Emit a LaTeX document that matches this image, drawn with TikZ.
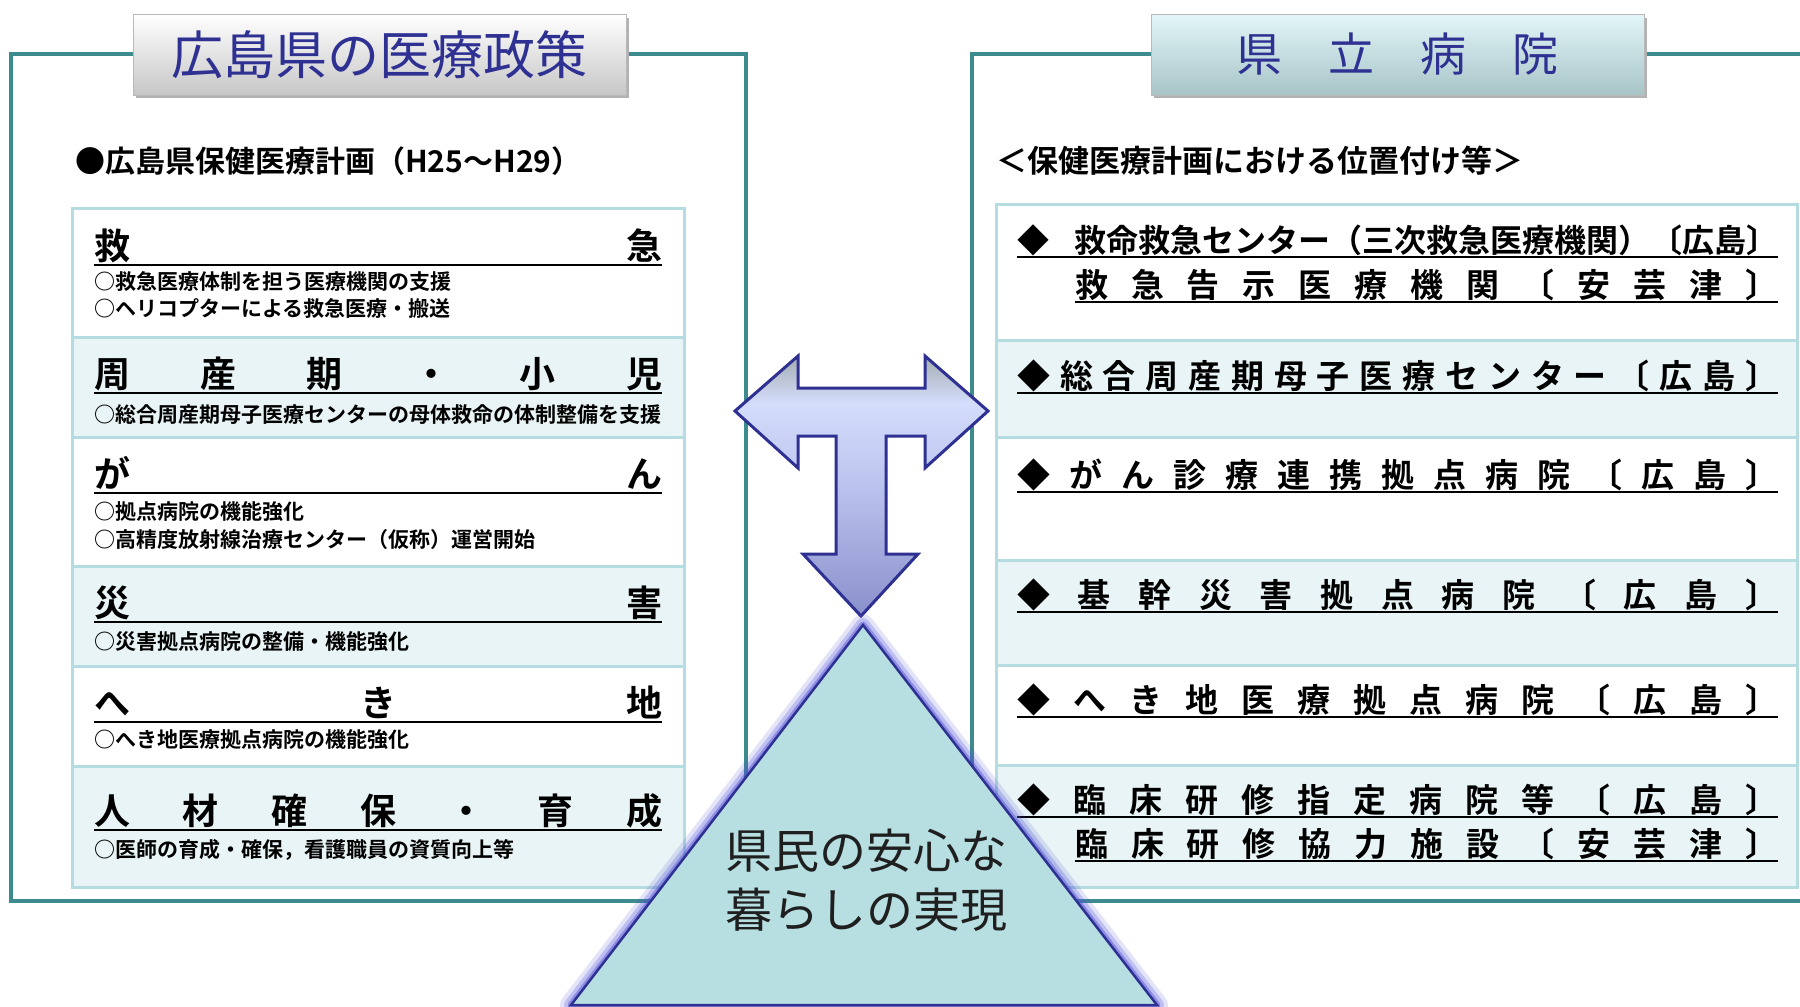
\documentclass[tikz,border=0pt]{standalone}
\usepackage{fontspec}
\newfontfamily\jp{Noto Sans CJK JP}[BoldFont={Noto Sans CJK JP Bold}]
\definecolor{teal1}{HTML}{3D8B8D}
\definecolor{rowb}{HTML}{B5DCE0}
\definecolor{rowfill}{HTML}{E8F4F5}
\definecolor{navy}{HTML}{2E3192}
\definecolor{tri}{HTML}{B7DFE2}
\definecolor{glowc}{HTML}{5050D8}
\definecolor{at}{HTML}{A4ACB2}
\definecolor{al}{HTML}{D4DDFB}
\definecolor{am}{HTML}{BAC3EE}
\definecolor{ab}{HTML}{8A90CB}
\pgfdeclareverticalshading{tarrow}{100bp}{color(0bp)=(ab); color(25bp)=(ab); color(50bp)=(am); color(66bp)=(al); color(75bp)=(at); color(100bp)=(at)}
\def\spread#1{\expandafter\spreadA#1\relax}
\def\spreadA#1{#1\spreadB}
\def\spreadB#1{\ifx\relax#1\else\hfill#1\expandafter\spreadB\fi}
\tikzset{
  frame/.style={draw=teal1, line width=4},
  rowbox/.style={draw=rowb, line width=3},
  tbox/.style={minimum width=493, minimum height=81, inner sep=0, text=navy, draw=gray!55, line width=1},
  lhead/.style={font=\jp\bfseries\fontsize{36}{40}\selectfont, inner sep=0, anchor=base west},
  rhead/.style={font=\jp\bfseries\fontsize{33}{36}\selectfont, inner sep=0, anchor=base west},
  sub/.style={font=\jp\bfseries\fontsize{21}{25}\selectfont, inner sep=0, anchor=west},
  uline/.style={line width=2.5, black},
}
\begin{document}
\begin{tikzpicture}[x=1pt,y=-1pt]
\useasboundingbox (0,0) rectangle (1800,1007);
\fill[white] (0,0) rectangle (1800,1007);
% frames
\draw[frame] (11,54) rectangle (746,901);
\draw[frame] (1815,54) -- (972,54) -- (972,901) -- (1815,901);
% title boxes
\fill[black!30] (136,18) rectangle (629,98);
\node[tbox, top color=white, bottom color=black!22, font=\jp\fontsize{52}{60}\selectfont] (ltitle) at (379.5,54.5) {広島県の医療政策};
\fill[black!30] (1154,18) rectangle (1647,98);
\node[tbox, top color={rgb,255:red,226;green,246;blue,249}, bottom color={rgb,255:red,168;green,196;blue,199}, font=\jp\fontsize{46}{54}\selectfont] (rtitle) at (1397.5,54.5) {県　立　病　院};
% section labels
\node[font=\jp\bfseries\fontsize{30}{36}\selectfont, inner sep=0, anchor=west] (lplan) at (75,161) {●広島県保健医療計画（H25～H29）};
\node[font=\jp\bfseries\fontsize{31}{36}\selectfont, inner sep=0, anchor=west] (rplan) at (996,161) {＜保健医療計画における位置付け等＞};
% left table rows
\foreach \a/\b/\c in {208/337/white, 337/437/rowfill, 437/566/white, 566/666/rowfill, 666/766/white, 766/887/rowfill}
  \draw[rowbox, fill=\c] (72,\a) rectangle (684,\b);
% right table rows
\foreach \a/\b/\c in {204/340/white, 340/437/rowfill, 437/560/white, 560/665/rowfill, 665/765/white, 765/887/rowfill}
  \draw[rowbox, fill=\c] (996,\a) rectangle (1797,\b);
% left headings
\foreach \n/\y/\t in {lh1/259/救急, lh2/387/周産期・小児, lh3/487/がん, lh4/616/災害, lh5/716/へき地, lh6/824/人材確保・育成}{
  \node[lhead] (\n) at (94,\y) {\makebox[568pt][l]{\spread{\t}}};
  \draw[uline] ([yshift=-6pt]\n.base west) -- ([yshift=-6pt]\n.base east);
}
% left sub items
\node[sub] (ls1a) at (94,282) {○救急医療体制を担う医療機関の支援};
\node[sub] (ls1b) at (94,309) {○ヘリコプターによる救急医療・搬送};
\node[sub] (ls2) at (94,415) {○総合周産期母子医療センターの母体救命の体制整備を支援};
\node[sub] (ls3a) at (94,512) {○拠点病院の機能強化};
\node[sub] (ls3b) at (94,540) {○高精度放射線治療センター（仮称）運営開始};
\node[sub] (ls4) at (94,642) {○災害拠点病院の整備・機能強化};
\node[sub] (ls5) at (94,740) {○へき地医療拠点病院の機能強化};
\node[sub] (ls6) at (94,850) {○医師の育成・確保，看護職員の資質向上等};
% right headings
\node[rhead, font=\jp\bfseries\fontsize{32}{36}\selectfont] (rh1a) at (1017,252) {\makebox[761pt][l]{◆\hfill 救命救急センター（三次救急医療機関）〔広島〕}};
\draw[uline] ([yshift=-5pt]rh1a.base west) -- ([yshift=-5pt]rh1a.base east);
\foreach \n/\x/\y/\w/\t in {rh1b/1075/297/703/救急告示医療機関〔安芸津〕, rh2/1017/388/761/◆総合周産期母子医療センター〔広島〕, rh3/1017/487/761/◆がん診療連携拠点病院〔広島〕, rh4/1017/607/761/◆基幹災害拠点病院〔広島〕, rh5/1017/712/761/◆へき地医療拠点病院〔広島〕, rh6a/1017/812/761/◆臨床研修指定病院等〔広島〕, rh6b/1075/856/703/臨床研修協力施設〔安芸津〕}{
  \node[rhead] (\n) at (\x,\y) {\makebox[\w pt][l]{\spread{\t}}};
  \draw[uline] ([yshift=-5pt]\n.base west) -- ([yshift=-5pt]\n.base east);
}
% T arrow
\path[shading=tarrow, draw=navy, line width=3, line join=miter]
  (735,411) -- (798,356) -- (798,388) -- (925,388) -- (925,356) -- (988,411) -- (925,468) -- (925,436)
  -- (886,436) -- (886,554) -- (918,554) -- (861,616) -- (803,554) -- (836,554) -- (836,436)
  -- (798,436) -- (798,468) -- cycle;
% triangle with glow
\draw[glowc, line width=22, opacity=0.15, line join=round] (863,625) -- (1157,1005) -- (571,1005) -- cycle;
\draw[glowc, line width=14, opacity=0.25, line join=round] (863,625) -- (1157,1005) -- (571,1005) -- cycle;
\draw[glowc, line width=7, opacity=0.45, line join=round] (863,625) -- (1157,1005) -- (571,1005) -- cycle;
\filldraw[fill=tri, draw=navy, line width=2.5] (863,625) -- (1157,1005) -- (571,1005) -- cycle;
\node[font=\jp\fontsize{47}{59}\selectfont, align=center, text=black!88, inner sep=0] (goal) at (866,880) {県民の安心な\\暮らしの実現};
\end{tikzpicture}
\end{document}
